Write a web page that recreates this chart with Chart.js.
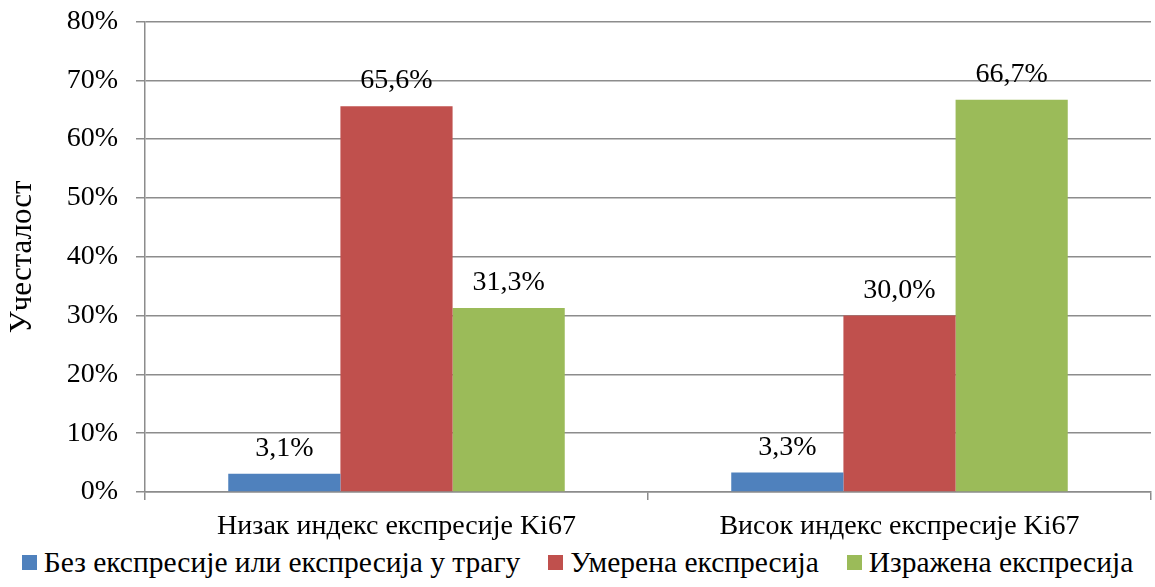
<!DOCTYPE html>
<html>
<head>
<meta charset="utf-8">
<script src="https://cdn.jsdelivr.net/npm/chart.js@4"></script>
<style>
  html, body { margin: 0; padding: 0; background: #fff; }
  #wrap { position: relative; width: 1155px; height: 587px; }
  #plot { width: 1155px; height: 540px; }
  #legend {
    position: absolute; left: 0; top: 547px; width: 1155px; height: 30px;
    display: flex; justify-content: center; align-items: center;
    font: 29.5px 'Liberation Serif', 'Times New Roman', serif; line-height: 30px; color: #000;
  }
  #legend .item { display: flex; align-items: center; margin: 0 14px; white-space: nowrap; }
  #legend .box { width: 15px; height: 15px; margin-right: 7px; }
</style>
</head>
<body>
<div id="wrap">
  <div id="plot"><canvas id="chartCanvas"></canvas></div>
  <div id="legend"></div>
</div>
<script>
const categories = ["Низак индекс експресије Ki67", "Висок индекс експресије Ki67"];
const seriesNames = ["Без експресије или експресија у трагу", "Умерена експресија", "Изражена експресија"];
const noExpression = [3.1, 3.3];
const moderateExpression = [65.6, 30.0];
const strongExpression = [31.3, 66.7];
const seriesColors = ["#4F81BD", "#C0504D", "#9BBB59"];

const serif = "'Liberation Serif', 'Times New Roman', serif";

// draws the value above each bar
const valueLabels = {
  id: "valueLabels",
  afterDatasetsDraw(chart) {
    const ctx = chart.ctx;
    ctx.save();
    ctx.font = "28px " + serif;
    ctx.fillStyle = "#000";
    ctx.textAlign = "center";
    ctx.textBaseline = "alphabetic";
    chart.data.datasets.forEach((ds, i) => {
      chart.getDatasetMeta(i).data.forEach((bar, j) => {
        const p = bar.getProps(["x", "y"], true);
        ctx.fillText(ds.data[j].toFixed(1).replace(".", ",") + "%", p.x, p.y - 18);
      });
    });
    ctx.restore();
  }
};

const ctx = document.getElementById("chartCanvas").getContext("2d");
const myChart = new Chart(ctx, {
  type: "bar",
  data: {
    labels: categories,
    datasets: [
      { label: seriesNames[0], data: noExpression, backgroundColor: seriesColors[0] },
      { label: seriesNames[1], data: moderateExpression, backgroundColor: seriesColors[1] },
      { label: seriesNames[2], data: strongExpression, backgroundColor: seriesColors[2] },
    ],
  },
  options: {
    responsive: true,
    maintainAspectRatio: false,
    animation: false,
    layout: { padding: { top: 0, right: 4, left: 0, bottom: 0 } },
    datasets: { bar: { barPercentage: 1, categoryPercentage: 0.669 } },
    plugins: {
      legend: { display: false },
      tooltip: { enabled: false },
    },
    scales: {
      x: {
        grid: { offset: true, drawOnChartArea: false, drawTicks: true, tickLength: 8, color: "#8c8c8c", lineWidth: 1.5 },
        border: { color: "#8c8c8c", width: 1.5 },
        ticks: { font: { family: serif, size: 28 }, color: "#000", padding: 10 },
        afterFit: (scale) => { scale.height = 48; },
      },
      y: {
        min: 0,
        max: 80,
        ticks: {
          stepSize: 10,
          font: { family: serif, size: 28, lineHeight: 0.25 },
          color: "#000",
          padding: 18,
          callback: (v) => v + "%",
        },
        grid: { color: "#8c8c8c", lineWidth: 1.5, tickLength: 9 },
        border: { color: "#8c8c8c", width: 1.5 },
        title: { display: true, text: "Учесталост", font: { family: serif, size: 31 }, color: "#000", padding: { top: 4, bottom: 0 } },
        afterFit: (scale) => { scale.width = 145; },
      },
    },
  },
  plugins: [valueLabels],
});

// legend below the canvas, built from the same series
const legendEl = document.getElementById("legend");
myChart.data.datasets.forEach((ds) => {
  const item = document.createElement("span");
  item.className = "item";
  const box = document.createElement("span");
  box.className = "box";
  box.style.background = ds.backgroundColor;
  item.appendChild(box);
  item.appendChild(document.createTextNode(ds.label));
  legendEl.appendChild(item);
});
</script>
</body>
</html>
